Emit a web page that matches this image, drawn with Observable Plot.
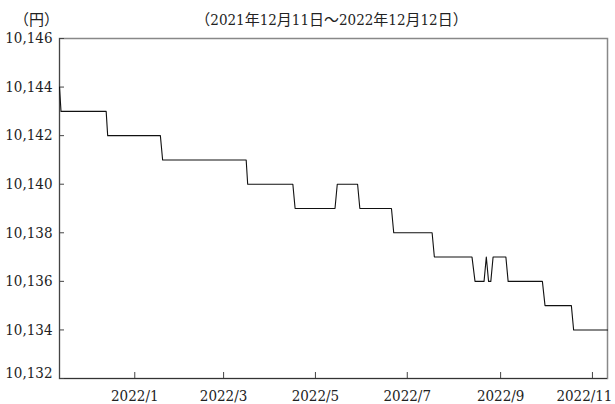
<!DOCTYPE html>
<html><head><meta charset="utf-8">
<script src="https://cdn.jsdelivr.net/npm/d3@7"></script>
<script src="https://cdn.jsdelivr.net/npm/@observablehq/plot@0.6"></script>
<style>body{margin:0;background:#fff;}</style>
</head><body><div id="chart"></div>
<script>
const unitLabel = "（円）";
const periodLabel = "（2021年12月11日～2022年12月12日）";
const dates = [
  "2021-11-12","2021-11-13","2021-12-13","2021-12-14","2022-01-18","2022-01-19T12:00Z",
  "2022-03-16","2022-03-17","2022-04-16","2022-04-17T12:00Z","2022-05-14","2022-05-15T12:00Z",
  "2022-05-29","2022-05-30T12:00Z","2022-06-20T12:00Z","2022-06-22","2022-07-17T12:00Z","2022-07-19",
  "2022-08-13","2022-08-15","2022-08-21","2022-08-22T12:00Z","2022-08-24","2022-08-25T12:00Z",
  "2022-08-27","2022-09-04T12:00Z","2022-09-06","2022-09-28T18:00Z","2022-09-30T12:00Z","2022-10-18",
  "2022-10-19T12:00Z","2022-11-11"
];
const values = [
  10144,10143,10143,10142,10142,10141,
  10141,10140,10140,10139,10139,10140,
  10140,10139,10139,10138,10138,10137,
  10137,10136,10136,10137,10136,10136,
  10137,10137,10136,10136,10135,10135,
  10134,10134
];
const yTicks = [10132,10134,10136,10138,10140,10142,10144,10146];
const xTickDates = ["2022-01-01","2022-03-01","2022-05-01","2022-07-01","2022-09-01","2022-11-01"];
const xTickLabels = ["2022/1","2022/3","2022/5","2022/7","2022/9","2022/11"];
const xDomainDates = ["2021-11-12","2022-11-11"];

const data = dates.map((d, i) => ({date: new Date(d), value: values[i]}));
const xTicks = xTickDates.map(d => new Date(d));
const xDomain = xDomainDates.map(d => new Date(d));
const yDomain = [yTicks[0], yTicks[yTicks.length - 1]];
const fmtY = d3.format(",");
const fmtX = d => xTickLabels[xTicks.findIndex(t => +t === +d)];
const FONT = "'DejaVu Serif Condensed', 'Noto Sans CJK JP'";

const chart = Plot.plot({
  width: 615, height: 404,
  marginLeft: 59, marginRight: 8, marginTop: 38, marginBottom: 26,
  style: {fontSize: "15px", fontFamily: FONT, color: "#222", background: "#fff"},
  x: {type: "utc", domain: xDomain},
  y: {domain: yDomain},
  marks: [
    Plot.frame({stroke: "#888", strokeWidth: 1.5}),
    Plot.ruleX([xDomain[0]], {stroke: "#444"}),
    Plot.ruleY([yDomain[0]], {stroke: "#333"}),
    Plot.ruleY(yTicks, {y: d => d, x1: () => xDomain[0], x2: () => xDomain[0], insetRight: -5, stroke: "#444"}),
    Plot.ruleX(xTicks, {x: d => d, y1: () => yDomain[0], y2: () => yDomain[0], insetBottom: 6, stroke: "#444"}),
    Plot.axisY({ticks: yTicks.slice(1), tickSize: 0, tickPadding: 7, tickFormat: fmtY, label: null, fontSize: 15, fontFamily: FONT}),
    Plot.axisY({ticks: [yTicks[0]], tickSize: 0, tickPadding: 7, dy: -5, tickFormat: fmtY, label: null, fontSize: 15, fontFamily: FONT}),
    Plot.axisX({ticks: xTicks.slice(0, -1), tickSize: 0, tickPadding: 12, tickFormat: fmtX, label: null, fontSize: 15, fontFamily: FONT}),
    Plot.axisX({ticks: xTicks.slice(-1), tickSize: 0, tickPadding: 12, tickFormat: fmtX, label: null, fontSize: 15, fontFamily: FONT, textAnchor: "end", dx: 20}),
    Plot.line(data, {x: "date", y: "value", stroke: "#111", strokeWidth: 1.1}),
    Plot.text([periodLabel], {text: d => d, frameAnchor: "top", dx: -2, dy: -24, fontSize: 15, fill: "#222", fontFamily: FONT}),
    Plot.text([unitLabel], {text: d => d, frameAnchor: "top-left", dx: -23, dy: -24, textAnchor: "middle", fontSize: 15, fill: "#222", fontFamily: FONT})
  ]
});
document.getElementById("chart").appendChild(chart);
</script>
</body></html>
